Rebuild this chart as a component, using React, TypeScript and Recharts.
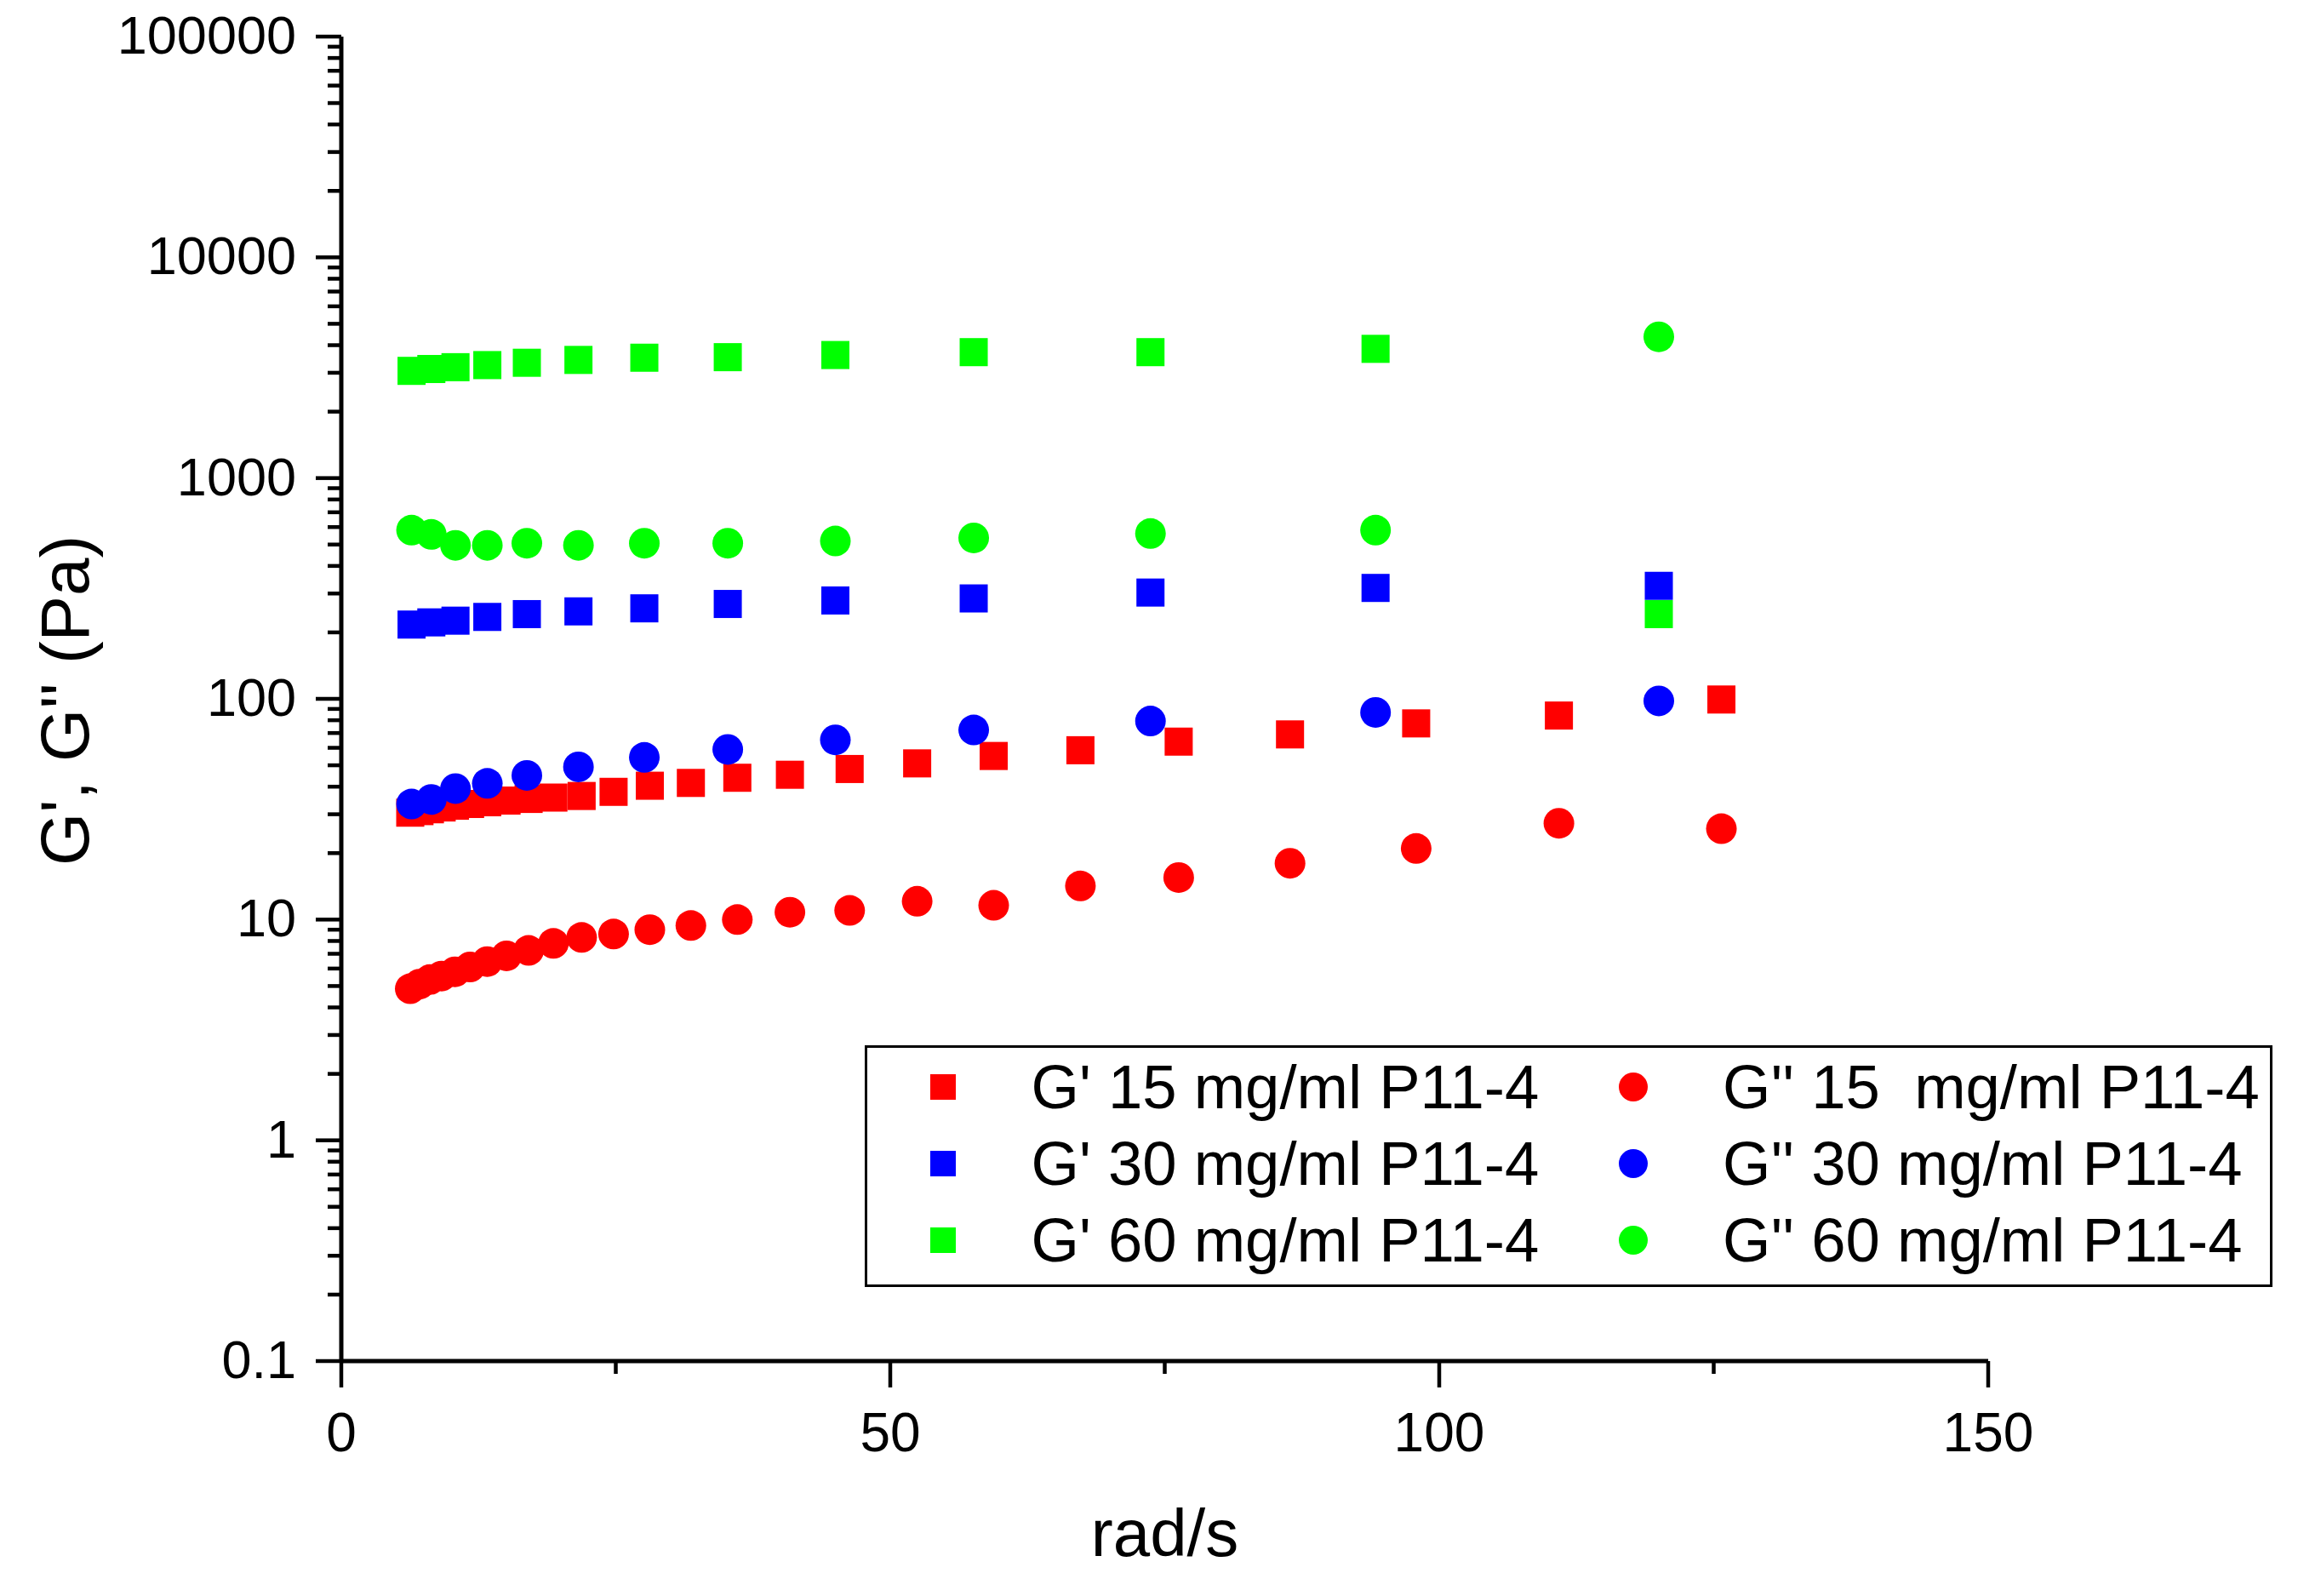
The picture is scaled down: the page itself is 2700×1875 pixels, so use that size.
import React from 'react';
import { ScatterChart, Scatter, XAxis, YAxis, Legend, Label } from 'recharts';

const FONT = "'Liberation Sans', Arial, Helvetica, sans-serif";

const RED = '#FF0000';
const BLUE = '#0000FF';
const GREEN = '#00FF00';

// angular frequency (rad/s) for the 15 mg/ml sweep
const omega15 = [6.28, 7.12, 8.07, 9.14, 10.35, 11.73, 13.29, 15.05, 17.06, 19.32, 21.89, 24.8, 28.1, 31.84, 36.07, 40.86, 46.3, 52.45, 59.42, 67.32, 76.27, 86.41, 97.9, 110.9, 125.7];
const gPrime15 = [30.5, 31.0, 31.6, 32.2, 32.8, 33.4, 34.0, 34.6, 35.2, 35.7, 36.3, 37.9, 40.4, 41.6, 43.9, 45.3, 48.1, 51.0, 55.1, 58.5, 64.0, 69.0, 77.4, 84.0, 99.3];
const gDouble15 = [4.86, 5.1, 5.35, 5.55, 5.8, 6.1, 6.45, 6.85, 7.25, 7.8, 8.3, 8.6, 9.0, 9.4, 10.0, 10.8, 11.0, 12.1, 11.6, 14.2, 15.5, 18.0, 21.0, 27.3, 25.8];

// angular frequency (rad/s) for the 30 and 60 mg/ml sweeps
const omega30_60 = [6.4, 8.2, 10.4, 13.3, 16.9, 21.6, 27.6, 35.2, 45.0, 57.6, 73.7, 94.2, 120.0];
const gPrime30 = [217, 222, 226, 235, 242, 249, 257, 269, 279, 285, 303, 318, 325];
const gDouble30 = [33.4, 35.0, 39.2, 41.4, 45.0, 49.2, 54.3, 59.0, 65.2, 72.3, 79.3, 86.8, 97.9];
const gPrime60 = [3060, 3120, 3180, 3250, 3330, 3430, 3510, 3530, 3610, 3720, 3720, 3850, 242];
const gDouble60 = [581, 556, 496, 496, 507, 496, 507, 507, 519, 536, 561, 581, 4365];

const xTicks = [0, 25, 50, 75, 100, 125, 150];
const xMajorTicks = [0, 50, 100, 150];
const yMajorTicks = [0.1, 1, 10, 100, 1000, 10000, 100000];
const yMinorMultipliers = [2, 3, 4, 5, 6, 7, 8, 9];

const yTicks: number[] = [];
yMajorTicks.forEach((t, i) => {
  yTicks.push(t);
  if (i < yMajorTicks.length - 1) yMinorMultipliers.forEach((m) => yTicks.push(m * t));
});

const zip = (xs: number[], ys: number[]) => xs.map((x, i) => ({ x, y: ys[i] }));

type Series = { name: string; data: { x: number; y: number }[]; color: string; shape: 'square' | 'circle' };

const series: Series[] = [
  { name: "G' 15 mg/ml P11-4", data: zip(omega15, gPrime15), color: RED, shape: 'square' },
  { name: "G'' 15  mg/ml P11-4", data: zip(omega15, gDouble15), color: RED, shape: 'circle' },
  { name: "G' 30 mg/ml P11-4", data: zip(omega30_60, gPrime30), color: BLUE, shape: 'square' },
  { name: "G'' 30 mg/ml P11-4", data: zip(omega30_60, gDouble30), color: BLUE, shape: 'circle' },
  { name: "G' 60 mg/ml P11-4", data: zip(omega30_60, gPrime60), color: GREEN, shape: 'square' },
  { name: "G'' 60 mg/ml P11-4", data: zip(omega30_60, gDouble60), color: GREEN, shape: 'circle' },
];

const SQ = 33;
const CR = 18;

const makeShape = (color: string, shape: 'square' | 'circle') => (props: any) => {
  const { cx, cy } = props;
  if (cx == null || cy == null || isNaN(cx) || isNaN(cy)) return <g />;
  if (shape === 'square') {
    return <rect x={cx - SQ / 2} y={cy - SQ / 2} width={SQ} height={SQ} fill={color} />;
  }
  return <circle cx={cx} cy={cy} r={CR} fill={color} />;
};

const Y_TICK_SIZE = 30;
const Y_TICK_MARGIN = 24;
const X_TICK_SIZE = 31;
const X_TICK_MARGIN = 75;

const isYMajor = (v: number) => yMajorTicks.some((t) => Math.abs(t - v) < t * 1e-6);

const YTick = (props: any) => {
  const { x, y, payload } = props;
  const axisX = x + Y_TICK_SIZE + Y_TICK_MARGIN;
  const major = isYMajor(payload.value);
  const len = major ? 30 : 16;
  return (
    <g>
      <line x1={axisX - len} x2={axisX} y1={y} y2={y} stroke="#000" strokeWidth={4.5} />
      {major && (
        <text x={axisX - 53} y={y + 20} textAnchor="end" fontFamily={FONT} fontSize={63} fill="#000">
          {String(payload.value)}
        </text>
      )}
    </g>
  );
};

const XTick = (props: any) => {
  const { x, y, payload } = props;
  const axisY = y - X_TICK_SIZE - X_TICK_MARGIN;
  const major = xMajorTicks.includes(payload.value);
  const len = major ? 31 : 15;
  return (
    <g>
      <line x1={x} x2={x} y1={axisY} y2={axisY + len} stroke="#000" strokeWidth={4.5} />
      {major && (
        <text x={x} y={axisY + 106} textAnchor="middle" fontFamily={FONT} fontSize={64} fill="#000">
          {String(payload.value)}
        </text>
      )}
    </g>
  );
};

const XLabel = (props: any) => {
  const vb = props.viewBox || { x: 0, y: 0, width: 0, height: 0 };
  return (
    <text x={vb.x + vb.width / 2} y={vb.y + 229} textAnchor="middle" fontFamily={FONT} fontSize={78} fill="#000">
      rad/s
    </text>
  );
};

const YLabel = (props: any) => {
  const vb = props.viewBox || { x: 0, y: 0, width: 0, height: 0 };
  const cx = vb.x + 104;
  const cy = vb.y + vb.height / 2 + 2;
  return (
    <text x={cx} y={cy} transform={`rotate(-90, ${cx}, ${cy})`} textAnchor="middle" fontFamily={FONT} fontSize={80} fill="#000">
      G', G'' (Pa)
    </text>
  );
};

const LEG_W = 1654;
const LEG_H = 284;
const rowCenters = [45.7, 135.7, 225.7];
const colMarkerX = [89, 899.6];
const colTextX = [192.5, 1005];

const LegendBox = () => {
  const cols = [series.filter((s) => s.shape === 'square'), series.filter((s) => s.shape === 'circle')];
  return (
    <div
      style={{
        position: 'relative',
        width: LEG_W,
        height: LEG_H,
        border: '3px solid #000',
        boxSizing: 'border-box',
        background: '#fff',
        fontFamily: FONT,
        fontSize: 72.5,
        color: '#000',
      }}
    >
      {cols.map((col, ci) =>
        col.map((s, ri) => (
          <React.Fragment key={s.name}>
            {s.shape === 'square' ? (
              <div
                style={{
                  position: 'absolute',
                  left: colMarkerX[ci] - 15,
                  top: rowCenters[ri] - 15,
                  width: 30,
                  height: 30,
                  background: s.color,
                }}
              />
            ) : (
              <div
                style={{
                  position: 'absolute',
                  left: colMarkerX[ci] - 17,
                  top: rowCenters[ri] - 17,
                  width: 34,
                  height: 34,
                  borderRadius: '50%',
                  background: s.color,
                }}
              />
            )}
            <span
              style={{
                position: 'absolute',
                left: colTextX[ci],
                top: rowCenters[ri],
                transform: 'translateY(-50%)',
                lineHeight: 1,
                whiteSpace: 'pre',
              }}
            >
              {s.name}
            </span>
          </React.Fragment>
        ))
      )}
    </div>
  );
};

export default function App() {
  return (
    <div style={{ position: 'absolute', left: 0, top: 0, width: 2700, height: 1875, background: '#fff' }}>
      <ScatterChart width={2700} height={1875} margin={{ top: 43, right: 364, bottom: 0, left: 0 }}>
        <XAxis
          type="number"
          dataKey="x"
          domain={[0, 150]}
          ticks={xTicks}
          interval={0}
          height={276}
          tickSize={X_TICK_SIZE}
          tickMargin={X_TICK_MARGIN}
          tick={(p: any) => <XTick {...p} />}
          tickLine={false}
          axisLine={{ stroke: '#000', strokeWidth: 5 }}
          allowDataOverflow
        >
          <Label content={(p: any) => <XLabel {...p} />} />
        </XAxis>
        <YAxis
          type="number"
          dataKey="y"
          scale="log"
          domain={[0.1, 100000]}
          ticks={yTicks}
          interval={0}
          width={401}
          tickSize={Y_TICK_SIZE}
          tickMargin={Y_TICK_MARGIN}
          tick={(p: any) => <YTick {...p} />}
          tickLine={false}
          axisLine={{ stroke: '#000', strokeWidth: 5 }}
          allowDataOverflow
        >
          <Label content={(p: any) => <YLabel {...p} />} />
        </YAxis>
        <Legend
          layout="vertical"
          align="center"
          verticalAlign="middle"
          wrapperStyle={{ left: 1016, top: 1228, width: LEG_W, height: LEG_H }}
          content={() => <LegendBox />}
        />
        {series.map((s) => (
          <Scatter
            key={s.name}
            name={s.name}
            data={s.data}
            fill={s.color}
            shape={makeShape(s.color, s.shape)}
            isAnimationActive={false}
          />
        ))}
      </ScatterChart>
    </div>
  );
}
